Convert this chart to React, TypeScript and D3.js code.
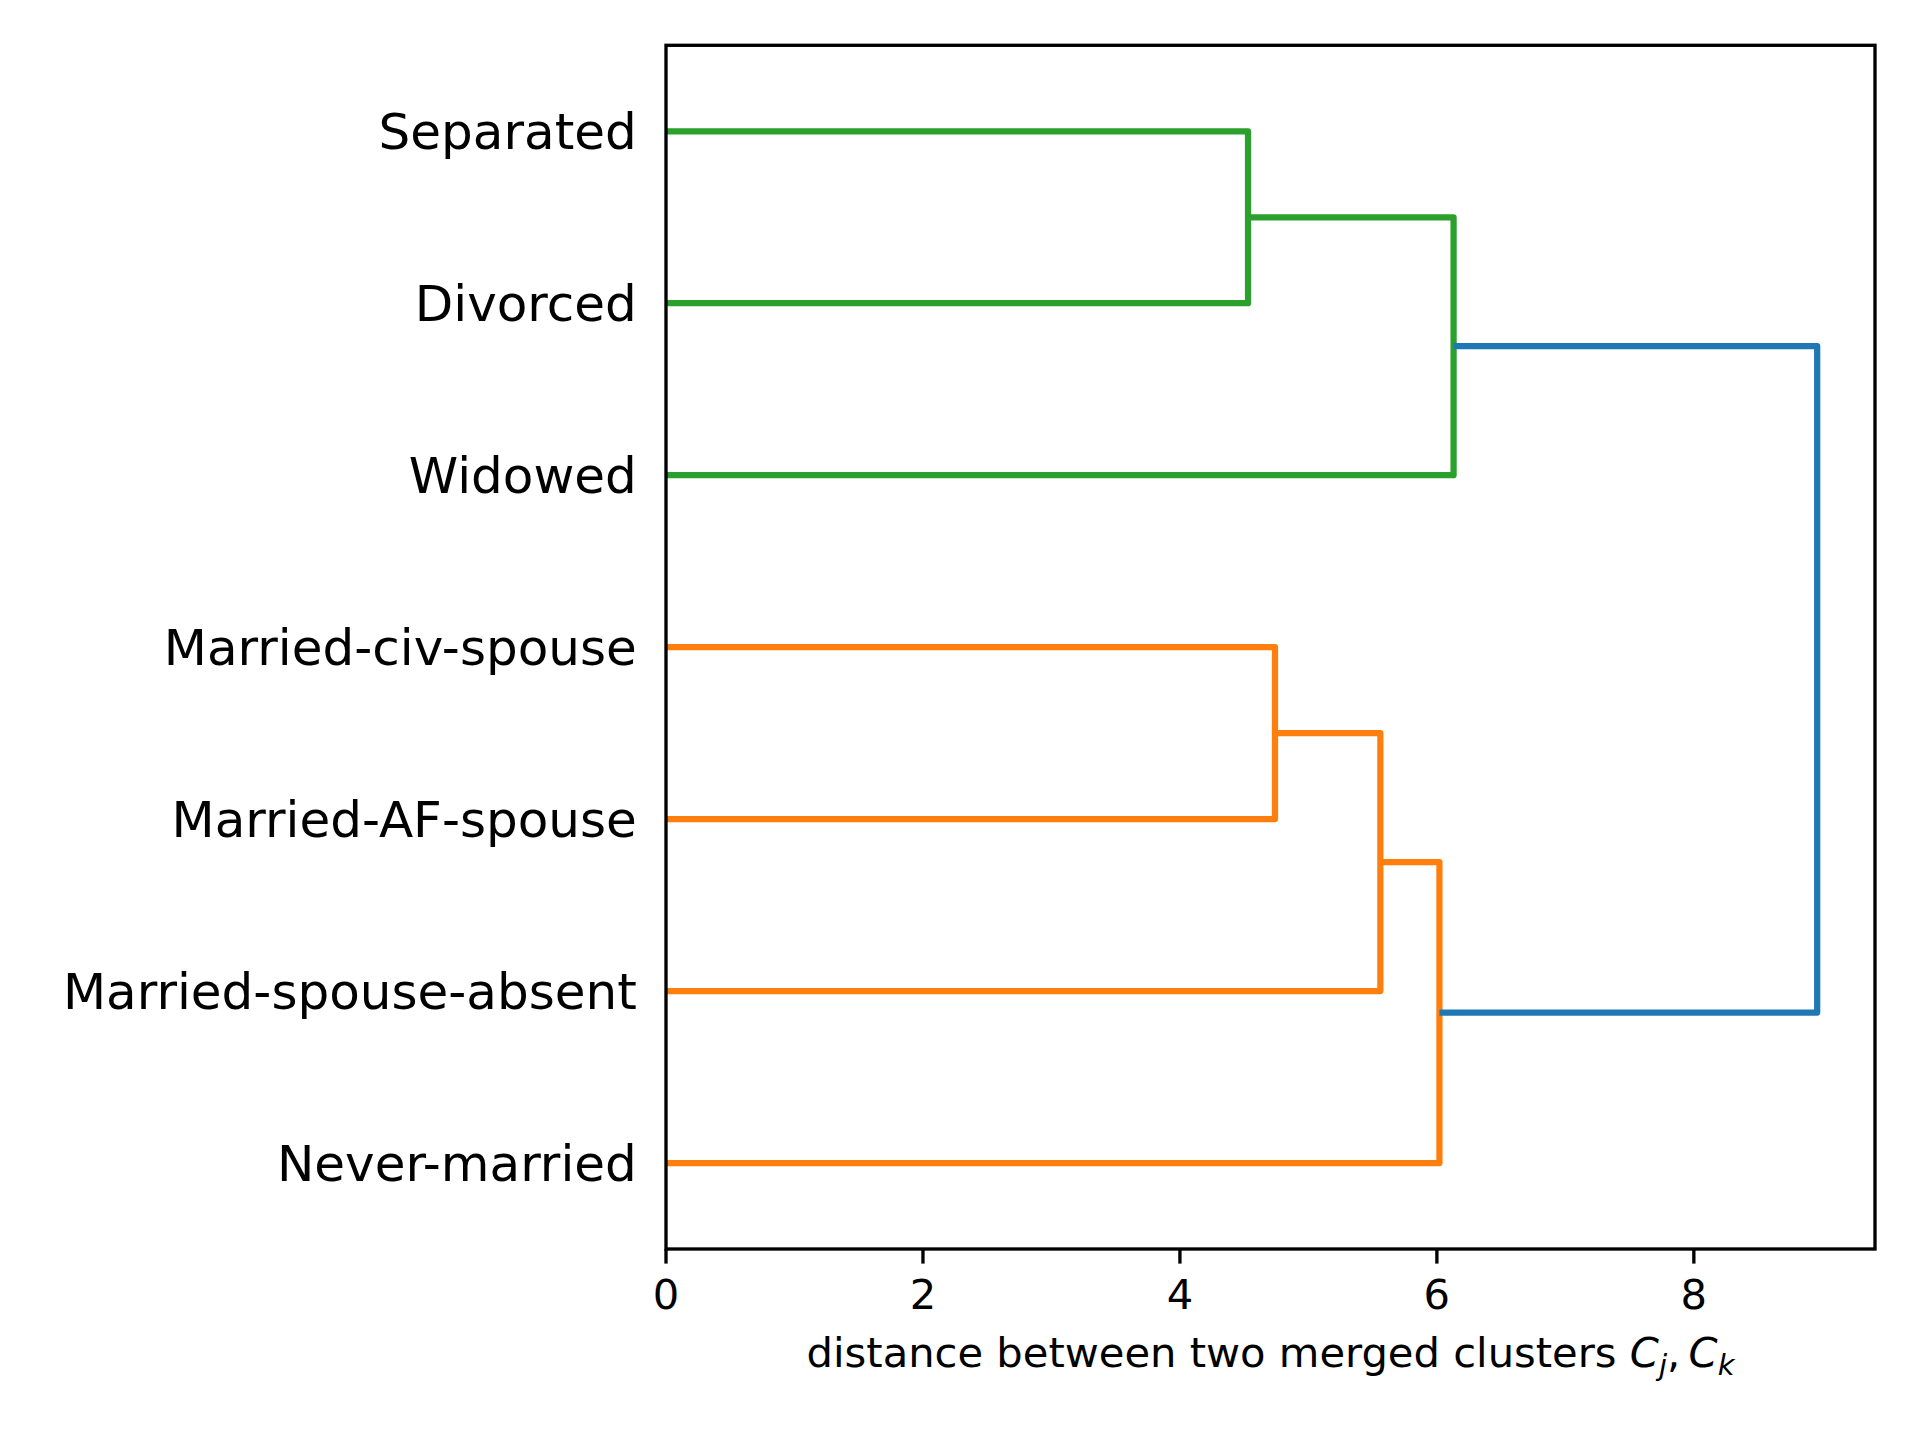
import { useEffect, useRef } from "react";
import * as d3 from "d3";

// leaves, bottom to top (scipy order for orientation="right")
const leaves: string[] = [
  "Never-married",
  "Married-spouse-absent",
  "Married-AF-spouse",
  "Married-civ-spouse",
  "Widowed",
  "Divorced",
  "Separated",
];

// merges: child ids (0..6 leaves, 7.. previous merges), merge distance, colour group
const mergeLeft: number[] = [3, 6, 7, 9, 8, 10];
const mergeRight: number[] = [2, 5, 1, 0, 4, 11];
const mergeDist: number[] = [4.74, 4.53, 5.56, 6.02, 6.13, 8.96];
const mergeGroup: string[] = ["b", "a", "b", "b", "a", "root"];

const xTicks: number[] = [0, 2, 4, 6, 8];

const colors: Record<string, string> = {
  a: "#2ca02c",
  b: "#ff7f0e",
  root: "#1f77b4",
};

const FONT = "'DejaVu Sans', sans-serif";

export default function App() {
  const svgRef = useRef<SVGSVGElement | null>(null);
  const width = 1920;
  const height = 1440;

  useEffect(() => {
    const svg = d3.select(svgRef.current);
    svg.selectAll("*").remove();

    const margin = { left: 666, right: 1875, top: 45.3, bottom: 1249 };

    const x = d3.scaleLinear().domain([0, 9.41]).range([margin.left, margin.right]);
    const y = d3
      .scaleLinear()
      .domain([0, leaves.length * 10])
      .range([margin.bottom, margin.top]);

    // node positions: leaves first, then merges
    const nodeY: number[] = leaves.map((_, i) => i * 10 + 5);
    const nodeD: number[] = leaves.map(() => 0);
    mergeDist.forEach((d, i) => {
      const a = mergeLeft[i];
      const b = mergeRight[i];
      nodeY.push((nodeY[a] + nodeY[b]) / 2);
      nodeD.push(d);
    });

    const line = d3
      .line<[number, number]>()
      .x((p) => x(p[0]))
      .y((p) => y(p[1]));

    const g = svg.append("g");
    mergeDist.forEach((d, i) => {
      const a = mergeLeft[i];
      const b = mergeRight[i];
      const pts: [number, number][] = [
        [nodeD[a], nodeY[a]],
        [d, nodeY[a]],
        [d, nodeY[b]],
        [nodeD[b], nodeY[b]],
      ];
      g.append("path")
        .attr("d", line(pts))
        .attr("fill", "none")
        .attr("stroke", colors[mergeGroup[i]])
        .attr("stroke-width", 6.25)
        .attr("stroke-linejoin", "round")
        .attr("stroke-linecap", "butt");
    });

    // frame
    svg
      .append("rect")
      .attr("x", margin.left)
      .attr("y", margin.top)
      .attr("width", margin.right - margin.left)
      .attr("height", margin.bottom - margin.top)
      .attr("fill", "none")
      .attr("stroke", "#000")
      .attr("stroke-width", 3.33);

    // x ticks
    const tickG = svg.append("g");
    xTicks.forEach((t) => {
      tickG
        .append("line")
        .attr("x1", x(t))
        .attr("x2", x(t))
        .attr("y1", margin.bottom)
        .attr("y2", margin.bottom + 14.6)
        .attr("stroke", "#000")
        .attr("stroke-width", 3.33);
      tickG
        .append("text")
        .attr("x", x(t))
        .attr("y", 1309)
        .attr("text-anchor", "middle")
        .style("font-family", FONT)
        .style("font-size", "41.67px")
        .text(String(t));
    });

    // leaf labels
    leaves.forEach((name, i) => {
      svg
        .append("text")
        .attr("x", margin.left - 29.2)
        .attr("y", y(nodeY[i]) + 18.2)
        .attr("text-anchor", "end")
        .style("font-family", FONT)
        .style("font-size", "50px")
        .text(name);
    });

    // x label with math part
    const xl = svg
      .append("text")
      .attr("x", (margin.left + margin.right) / 2)
      .attr("y", 1367)
      .attr("text-anchor", "middle")
      .style("font-family", FONT)
      .style("font-size", "41.67px");
    xl.append("tspan").text("distance between two merged clusters ");
    xl.append("tspan").style("font-style", "italic").text("C");
    xl.append("tspan").style("font-style", "italic").style("font-size", "29px").attr("dy", 8).text("j");
    xl.append("tspan").attr("dy", -8).text(",\u2009");
    xl.append("tspan").style("font-style", "italic").text("C");
    xl.append("tspan").style("font-style", "italic").style("font-size", "29px").attr("dy", 8).text("k");
  }, []);

  return (
    <svg
      ref={svgRef}
      width={width}
      height={height}
      style={{ position: "absolute", left: 0, top: 0, background: "#fff" }}
    />
  );
}
